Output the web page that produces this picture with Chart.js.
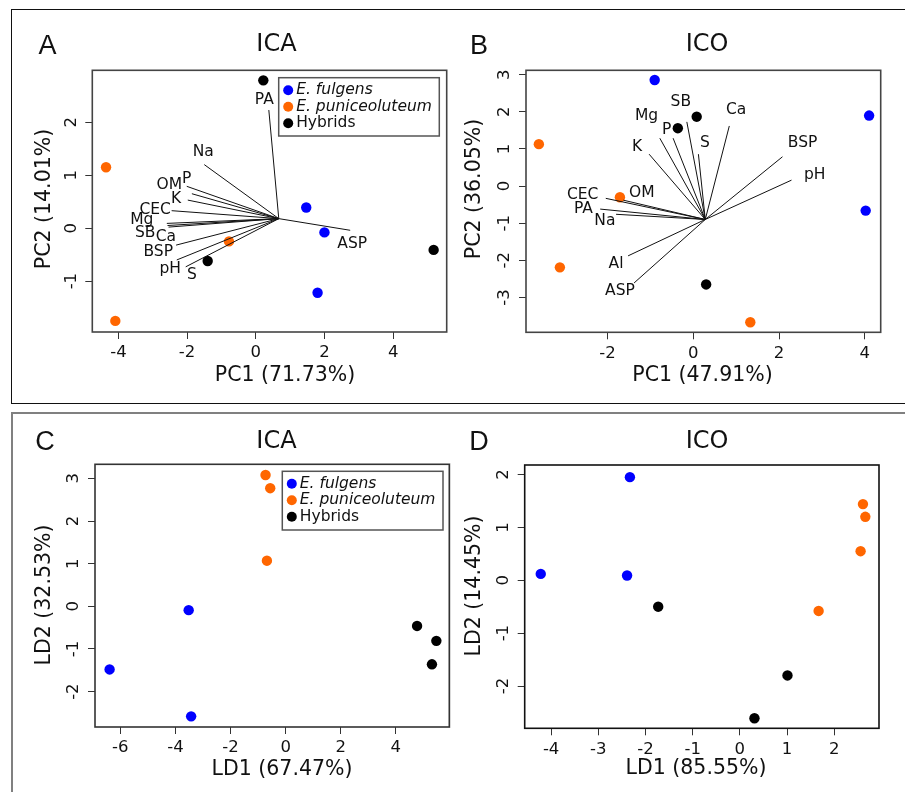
<!DOCTYPE html>
<html><head><meta charset="utf-8">
<script src="https://cdn.jsdelivr.net/npm/chart.js@4.4.1/dist/chart.umd.min.js"></script>
<style>
html,body{margin:0;padding:0;background:#fff;width:905px;height:792px;overflow:hidden}
canvas{position:absolute;left:0;top:0}
#f1{position:absolute;left:11px;top:9px;width:920px;height:395px;border:1.5px solid #111;box-sizing:border-box}
#f2{position:absolute;left:11px;top:412px;width:920px;height:400px;border-top:2px solid #808080;border-left:2px solid #808080;box-sizing:border-box}
#f3{position:absolute;left:450px;top:463px;width:1px;height:265px;background:#ececec}
</style></head><body>
<div id="f1"></div><div id="f2"></div><div id="f3"></div>
<canvas id="cA" width="905" height="792"></canvas>
<canvas id="cB" width="905" height="792"></canvas>
<canvas id="cC" width="905" height="792"></canvas>
<canvas id="cD" width="905" height="792"></canvas>
<script>
// ---------------- DATA ----------------
const groupNames = ["E. fulgens", "E. puniceoluteum", "Hybrids"];

// Panel A – PCA, ICA
const pcaIcaFulgensPC1 = [1.47, 2.00, 1.80];
const pcaIcaFulgensPC2 = [0.39, -0.08, -1.22];
const pcaIcaPuniceoPC1 = [-4.36, -4.09, -0.78];
const pcaIcaPuniceoPC2 = [1.15, -1.75, -0.25];
const pcaIcaHybridPC1 = [0.22, -1.40, 5.18];
const pcaIcaHybridPC2 = [2.79, -0.62, -0.41];
const pcaIcaOrigin = [0.67, 0.18];
const pcaIcaVars = ["PA", "Na", "OM", "P", "K", "CEC", "Mg", "SB", "Ca", "BSP", "pH", "S", "ASP"];
const pcaIcaLoadPC1 = [0.38, -1.50, -2.01, -1.86, -1.98, -2.45, -2.59, -2.57, -2.54, -2.32, -2.30, -2.04, 2.75];
const pcaIcaLoadPC2 = [2.23, 1.20, 0.79, 0.65, 0.53, 0.33, 0.09, 0.05, 0.02, -0.32, -0.60, -0.73, -0.04];
const pcaIcaLabelPC1 = [0.25, -1.53, -2.52, -2.01, -2.32, -2.93, -3.32, -3.22, -2.62, -2.84, -2.49, -1.86, 2.81];
const pcaIcaLabelPC2 = [2.42, 1.43, 0.81, 0.92, 0.55, 0.34, 0.15, -0.09, -0.16, -0.45, -0.77, -0.89, -0.29];
const pcaIcaTicksX = [-4, -2, 0, 2, 4];
const pcaIcaTicksY = [-1, 0, 1, 2];
const pcaIcaRangeX = [-4.76, 5.56];
const pcaIcaRangeY = [-1.96, 2.98];

// Panel B – PCA, ICO
const pcaIcoFulgensPC1 = [-0.90, 4.10, 4.02];
const pcaIcoFulgensPC2 = [2.86, 1.90, -0.66];
const pcaIcoPuniceoPC1 = [-3.60, -3.11, -1.71, 1.33];
const pcaIcoPuniceoPC2 = [1.13, -2.19, -0.30, -3.67];
const pcaIcoHybridPC1 = [0.08, -0.36, 0.30];
const pcaIcoHybridPC2 = [1.87, 1.56, -2.65];
const pcaIcoOrigin = [0.28, -0.90];
const pcaIcoVars = ["Ca", "BSP", "pH", "SB", "S", "P", "Mg", "K", "CEC", "OM", "PA", "Na", "Al", "ASP"];
const pcaIcoLoadPC1 = [0.84, 2.08, 2.29, -0.15, 0.12, -0.47, -0.78, -1.03, -2.04, -1.63, -2.17, -1.80, -1.52, -1.38];
const pcaIcoLoadPC2 = [1.62, 0.79, 0.16, 1.73, 0.86, 1.29, 1.29, 0.86, -0.33, -0.38, -0.62, -0.76, -1.88, -2.61];
const pcaIcoLabelPC1 = [1.00, 2.55, 2.83, -0.29, 0.27, -0.62, -1.09, -1.31, -2.58, -1.20, -2.56, -2.06, -1.80, -1.71];
const pcaIcoLabelPC2 = [2.05, 1.17, 0.30, 2.26, 1.15, 1.51, 1.89, 1.05, -0.24, -0.18, -0.63, -0.95, -2.11, -2.83];
const pcaIcoTicksX = [-2, 0, 2, 4];
const pcaIcoTicksY = [-3, -2, -1, 0, 1, 2, 3];
const pcaIcoRangeX = [-3.90, 4.37];
const pcaIcoRangeY = [-3.94, 3.12];

// Panel C – LDA, ICA
const ldaIcaFulgensLD1 = [-3.52, -6.39, -3.43];
const ldaIcaFulgensLD2 = [-0.09, -1.48, -2.58];
const ldaIcaPuniceoLD1 = [-0.73, -0.56, -0.68];
const ldaIcaPuniceoLD2 = [3.08, 2.77, 1.07];
const ldaIcaHybridLD1 = [4.77, 5.47, 5.31];
const ldaIcaHybridLD2 = [-0.46, -0.81, -1.36];
const ldaIcaTicksX = [-6, -4, -2, 0, 2, 4];
const ldaIcaTicksY = [-2, -1, 0, 1, 2, 3];
const ldaIcaRangeX = [-6.92, 5.94];
const ldaIcaRangeY = [-2.83, 3.33];

// Panel D – LDA, ICO
const ldaIcoFulgensLD1 = [-2.33, -4.22, -2.39];
const ldaIcoFulgensLD2 = [1.95, 0.12, 0.09];
const ldaIcoPuniceoLD1 = [2.61, 2.66, 2.56, 1.67];
const ldaIcoPuniceoLD2 = [1.44, 1.20, 0.55, -0.58];
const ldaIcoHybridLD1 = [-1.73, 1.01, 0.31];
const ldaIcoHybridLD2 = [-0.50, -1.80, -2.61];
const ldaIcoTicksX = [-4, -3, -2, -1, 0, 1, 2];
const ldaIcoTicksY = [-2, -1, 0, 1, 2];
const ldaIcoRangeX = [-4.56, 2.95];
const ldaIcoRangeY = [-2.80, 2.18];

// ---------------- STYLE / LAYOUT ----------------
const W = 905, H = 792, TICK = 7;
const groupColors = ["#0000ff", "#ff6600", "#000000"];
const FONT = "'DejaVu Sans', Verdana, sans-serif";

function pts(xs, ys) { return xs.map((x, i) => ({x: x, y: ys[i]})); }

const panelPlugin = {
  id: 'panel',
  afterDraw(chart) {
    const p = chart.options.plugins.panel;
    const ctx = chart.ctx;
    const a = chart.chartArea;
    const xs = chart.scales.x, ys = chart.scales.y;
    ctx.save();
    // box
    ctx.strokeStyle = p.boxColor;
    ctx.lineWidth = 1.6;
    ctx.strokeRect(a.left, a.top, a.right - a.left, a.bottom - a.top);
    ctx.fillStyle = '#111';
    // tick labels
    ctx.font = '16.5px ' + FONT;
    ctx.textAlign = 'center';
    ctx.textBaseline = 'middle';
    p.ticksX.forEach(v => {
      ctx.fillText(String(v), xs.getPixelForValue(v), a.bottom + 21);
    });
    p.ticksY.forEach(v => {
      ctx.save();
      ctx.translate(a.left - 21, ys.getPixelForValue(v));
      ctx.rotate(-Math.PI / 2);
      ctx.fillText(String(v), 0, 0);
      ctx.restore();
    });
    // axis titles
    ctx.font = '20.5px ' + FONT;
    ctx.fillText(p.xTitle, p.xTitlePos[0], p.xTitlePos[1]);
    ctx.save();
    ctx.translate(p.yTitlePos[0], p.yTitlePos[1]);
    ctx.rotate(-Math.PI / 2);
    ctx.fillText(p.yTitle, 0, 0);
    ctx.restore();
    // title + letter
    ctx.font = '24px ' + FONT;
    ctx.fillText(p.title, p.titlePos[0], p.titlePos[1]);
    ctx.font = '27px "Liberation Sans", Arial, sans-serif';
    ctx.fillText(p.letter, p.letterPos[0], p.letterPos[1]);
    // loading labels
    if (p.varNames) {
      ctx.font = '15.5px ' + FONT;
      p.varNames.forEach((n, i) => {
        ctx.fillText(n, xs.getPixelForValue(p.varLX[i]), ys.getPixelForValue(p.varLY[i]));
      });
    }
    // legend
    if (p.legend) {
      const L = p.legend;
      ctx.fillStyle = '#fff';
      ctx.fillRect(L.x, L.y, L.w, L.h);
      ctx.strokeStyle = '#555';
      ctx.lineWidth = 1.5;
      ctx.strokeRect(L.x, L.y, L.w, L.h);
      groupNames.forEach((g, i) => {
        const cy = L.y + 12.5 + i * 16.5;
        ctx.fillStyle = groupColors[i];
        ctx.beginPath();
        ctx.arc(L.x + 9.5, cy, 5, 0, Math.PI * 2);
        ctx.fill();
        ctx.fillStyle = '#111';
        ctx.textAlign = 'left';
        ctx.font = (i < 2 ? 'italic ' : '') + '15.5px ' + FONT;
        ctx.fillText(g, L.x + 17.5, cy);
      });
    }
    ctx.restore();
  }
};

function makePanel(id, cfg) {
  const datasets = [];
  if (cfg.load) {
    cfg.load.names.forEach((n, i) => {
      datasets.push({
        type: 'scatter', label: n, showLine: true,
        data: [{x: cfg.load.origin[0], y: cfg.load.origin[1]}, {x: cfg.load.lx[i], y: cfg.load.ly[i]}],
        borderColor: '#111', borderWidth: 1, pointRadius: 0, fill: false
      });
    });
  }
  cfg.groups.forEach((g, i) => {
    datasets.push({
      type: 'scatter', label: groupNames[i], data: pts(g[0], g[1]),
      pointRadius: 5.2, pointBackgroundColor: groupColors[i], pointBorderWidth: 0,
      borderColor: groupColors[i]
    });
  });
  const b = cfg.box;
  new Chart(document.getElementById(id), {
    type: 'scatter',
    data: {datasets: datasets},
    options: {
      responsive: false, animation: false, devicePixelRatio: 1,
      layout: {padding: {left: b[0] - TICK, top: b[1], right: W - b[2], bottom: H - b[3] - TICK}},
      plugins: {
        legend: {display: false}, tooltip: {enabled: false},
        panel: cfg.panel
      },
      scales: {
        x: {
          type: 'linear', min: cfg.rx[0], max: cfg.rx[1],
          afterBuildTicks: s => { s.ticks = cfg.tx.map(v => ({value: v})); },
          ticks: {display: false},
          grid: {display: true, drawOnChartArea: false, drawTicks: true, tickLength: TICK, color: '#333', lineWidth: 1},
          border: {display: false}
        },
        y: {
          type: 'linear', min: cfg.ry[0], max: cfg.ry[1],
          afterBuildTicks: s => { s.ticks = cfg.ty.map(v => ({value: v})); },
          ticks: {display: false},
          grid: {display: true, drawOnChartArea: false, drawTicks: true, tickLength: TICK, color: '#333', lineWidth: 1},
          border: {display: false}
        }
      }
    },
    plugins: [panelPlugin]
  });
}

makePanel('cA', {
  box: [92.3, 70.3, 446.7, 332],
  rx: pcaIcaRangeX, ry: pcaIcaRangeY, tx: pcaIcaTicksX, ty: pcaIcaTicksY,
  groups: [[pcaIcaFulgensPC1, pcaIcaFulgensPC2], [pcaIcaPuniceoPC1, pcaIcaPuniceoPC2], [pcaIcaHybridPC1, pcaIcaHybridPC2]],
  load: {names: pcaIcaVars, origin: pcaIcaOrigin, lx: pcaIcaLoadPC1, ly: pcaIcaLoadPC2},
  panel: {
    boxColor: '#444',
    ticksX: pcaIcaTicksX, ticksY: pcaIcaTicksY,
    xTitle: 'PC1 (71.73%)', xTitlePos: [285, 376],
    yTitle: 'PC2 (14.01%)', yTitlePos: [45, 199],
    title: 'ICA', titlePos: [276.5, 45],
    letter: 'A', letterPos: [47.5, 47],
    varNames: pcaIcaVars, varLX: pcaIcaLabelPC1, varLY: pcaIcaLabelPC2,
    legend: {x: 278.7, y: 77.7, w: 160.6, h: 58.3}
  }
});

makePanel('cB', {
  box: [526, 70.3, 880.7, 332.3],
  rx: pcaIcoRangeX, ry: pcaIcoRangeY, tx: pcaIcoTicksX, ty: pcaIcoTicksY,
  groups: [[pcaIcoFulgensPC1, pcaIcoFulgensPC2], [pcaIcoPuniceoPC1, pcaIcoPuniceoPC2], [pcaIcoHybridPC1, pcaIcoHybridPC2]],
  load: {names: pcaIcoVars, origin: pcaIcoOrigin, lx: pcaIcoLoadPC1, ly: pcaIcoLoadPC2},
  panel: {
    boxColor: '#444',
    ticksX: pcaIcoTicksX, ticksY: pcaIcoTicksY,
    xTitle: 'PC1 (47.91%)', xTitlePos: [702.5, 376],
    yTitle: 'PC2 (36.05%)', yTitlePos: [475, 189],
    title: 'ICO', titlePos: [707, 45],
    letter: 'B', letterPos: [479, 47],
    varNames: pcaIcoVars, varLX: pcaIcoLabelPC1, varLY: pcaIcoLabelPC2,
    legend: null
  }
});

makePanel('cC', {
  box: [95, 464.3, 449.3, 727],
  rx: ldaIcaRangeX, ry: ldaIcaRangeY, tx: ldaIcaTicksX, ty: ldaIcaTicksY,
  groups: [[ldaIcaFulgensLD1, ldaIcaFulgensLD2], [ldaIcaPuniceoLD1, ldaIcaPuniceoLD2], [ldaIcaHybridLD1, ldaIcaHybridLD2]],
  load: null,
  panel: {
    boxColor: '#333',
    ticksX: ldaIcaTicksX, ticksY: ldaIcaTicksY,
    xTitle: 'LD1 (67.47%)', xTitlePos: [282, 770],
    yTitle: 'LD2 (32.53%)', yTitlePos: [45, 595],
    title: 'ICA', titlePos: [276.5, 442],
    letter: 'C', letterPos: [45, 443],
    varNames: null,
    legend: {x: 282.3, y: 471.3, w: 160.7, h: 58.7}
  }
});

makePanel('cD', {
  box: [524.7, 465, 879, 728.3],
  rx: ldaIcoRangeX, ry: ldaIcoRangeY, tx: ldaIcoTicksX, ty: ldaIcoTicksY,
  groups: [[ldaIcoFulgensLD1, ldaIcoFulgensLD2], [ldaIcoPuniceoLD1, ldaIcoPuniceoLD2], [ldaIcoHybridLD1, ldaIcoHybridLD2]],
  load: null,
  panel: {
    boxColor: '#111',
    ticksX: ldaIcoTicksX, ticksY: ldaIcoTicksY,
    xTitle: 'LD1 (85.55%)', xTitlePos: [696, 768.5],
    yTitle: 'LD2 (14.45%)', yTitlePos: [475, 586],
    title: 'ICO', titlePos: [707, 442],
    letter: 'D', letterPos: [479, 443],
    varNames: null,
    legend: null
  }
});
</script>
</body></html>
